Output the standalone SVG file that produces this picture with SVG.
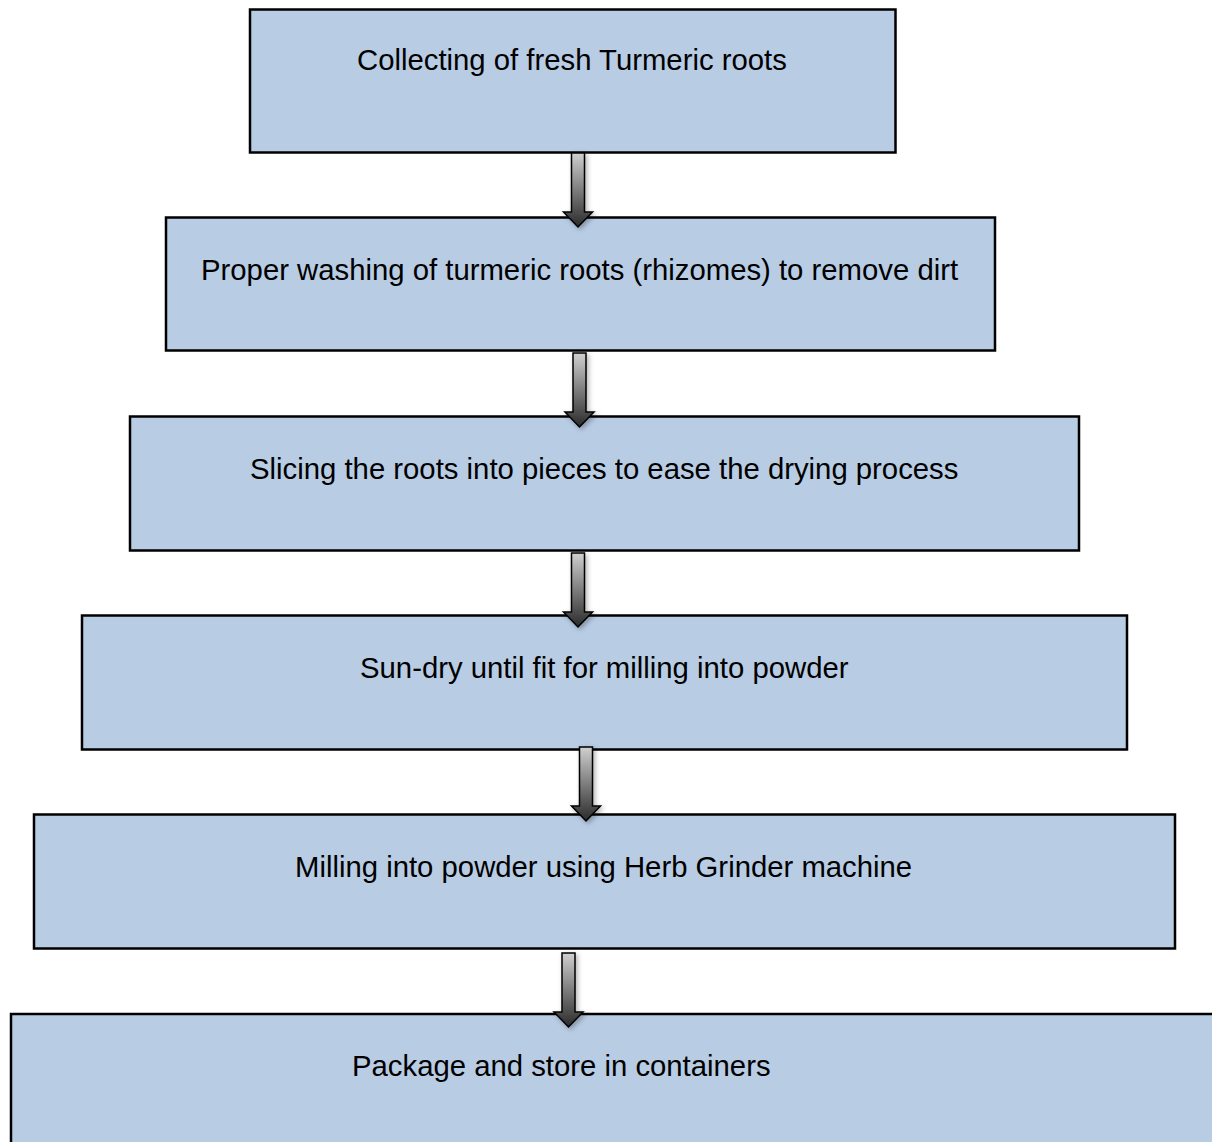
<svg xmlns="http://www.w3.org/2000/svg" width="1212" height="1142" viewBox="0 0 1212 1142">
<style>
.box{fill:#b8cce4;stroke:#000;stroke-width:2.5}
.lbl{font-family:"Liberation Sans",Arial,sans-serif;font-size:29.3px;fill:#000}
.arr{fill:url(#ag);stroke:#000;stroke-width:1.5;stroke-linejoin:miter;filter:url(#sh)}
</style>
<defs>
<linearGradient id="ag" x1="0" y1="0" x2="0" y2="1">
<stop offset="0" stop-color="#d0d0d0"/>
<stop offset="1" stop-color="#2a2a2a"/>
</linearGradient>
<filter id="sh" x="-50%" y="-20%" width="200%" height="140%">
<feDropShadow dx="2" dy="2" stdDeviation="2.5" flood-color="#000" flood-opacity="0.3"/>
</filter>
<path id="arrow" d="M-6.5,0 H6.5 V59 H14.5 L0,74 L-14.5,59 H-6.5 Z"/>
</defs>
<rect width="1212" height="1142" fill="#fff"/>
<g id="nodes">
<g id="n1"><rect class="box" x="250" y="9.5" width="645.5" height="143"/><text class="lbl" x="357" y="70">Collecting of fresh Turmeric roots</text></g>
<g id="n2"><rect class="box" x="166" y="217.5" width="829" height="133"/><text class="lbl" x="201" y="280">Proper washing of turmeric roots (rhizomes) to remove dirt</text></g>
<g id="n3"><rect class="box" x="130" y="416.5" width="949" height="134"/><text class="lbl" x="250" y="479">Slicing the roots into pieces to ease the drying process</text></g>
<g id="n4"><rect class="box" x="82" y="615.5" width="1045" height="134"/><text class="lbl" x="360" y="678">Sun-dry until fit for milling into powder</text></g>
<g id="n5"><rect class="box" x="34" y="814.5" width="1141" height="134"/><text class="lbl" x="295" y="877">Milling into powder using Herb Grinder machine</text></g>
<g id="n6"><rect class="box" x="11" y="1014" width="1220" height="140"/><text class="lbl" x="352" y="1076">Package and store in containers</text></g>
</g>
<g id="connectors">
<use href="#arrow" class="arr" transform="translate(578,153)"/>
<use href="#arrow" class="arr" transform="translate(579.5,353)"/>
<use href="#arrow" class="arr" transform="translate(578,553)"/>
<use href="#arrow" class="arr" transform="translate(586,747)"/>
<use href="#arrow" class="arr" transform="translate(568.5,953)"/>
</g>
</svg>
